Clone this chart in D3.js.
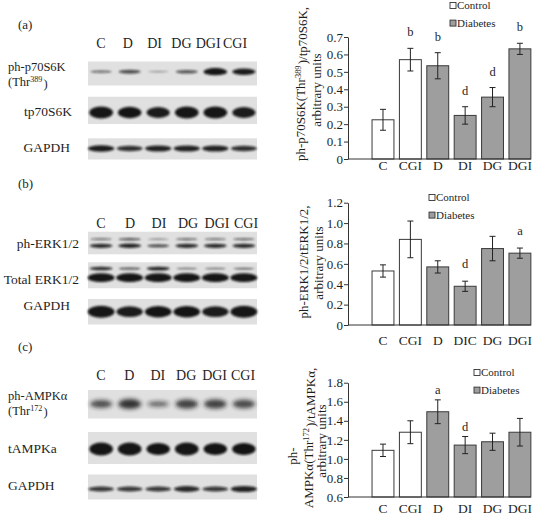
<!DOCTYPE html>
<html><head><meta charset="utf-8">
<script src="https://cdn.jsdelivr.net/npm/d3@7"></script>
<style>
html,body{margin:0;padding:0;background:#fff;}
svg{display:block;font-family:"Liberation Serif","Times New Roman",serif;}
</style></head>
<body>
<svg id="fig" width="555" height="516"></svg>
<script>
// ---------- data ----------
const groupsA = ["C","CGI","D","DI","DG","DGI"];
const groupsB = ["C","CGI","D","DIC","DG","DGI"];
const groupsC = ["C","CGI","D","DI","DG","DGI"];
const groupKind = ["Control","Control","Diabetes","Diabetes","Diabetes","Diabetes"];
const legendItems = ["Control","Diabetes"];

const valuesA = [0.225,0.57,0.535,0.25,0.355,0.632];
const errorsA = [0.06,0.065,0.075,0.05,0.055,0.032];
const lettersA = ["","b","b","d","d","b"];
const ticksA = [0,0.1,0.2,0.3,0.4,0.5,0.6,0.7];
const tickLabelsA = ["0","0.1","0.2","0.3","0.4","0.5","0.6","0.7"];

const valuesB = [0.53,0.84,0.57,0.38,0.75,0.705];
const errorsB = [0.06,0.18,0.06,0.05,0.12,0.05];
const lettersB = ["","","","d","","a"];
const ticksB = [0,0.2,0.4,0.6,0.8,1.0,1.2];
const tickLabelsB = ["0","0.2","0.4","0.6","0.8","1.0","1.2"];

const valuesC = [1.09,1.28,1.495,1.145,1.18,1.28];
const errorsC = [0.065,0.12,0.125,0.09,0.09,0.145];
const lettersC = ["","","a","d","",""];
const ticksC = [0.6,0.8,1.0,1.2,1.4,1.6,1.8];
const tickLabelsC = ["0.6","0.8","1.0","1.2","1.4","1.6","1.8"];

// blot lanes and relative band intensities
const lanes = ["C","D","DI","DG","DGI","CGI"];
const bandA_ph = [0.35,0.55,0.15,0.5,1.0,0.9];
const bandA_t = [1.0,0.95,0.9,1.0,1.0,0.9];
const bandA_g = [0.9,0.75,0.85,0.85,0.85,0.75];
const bandB_phUp = [0.45,0.6,0.3,0.5,0.45,0.5];
const bandB_phLo = [0.8,0.85,0.6,0.8,0.8,0.8];
const bandB_tUp = [0.8,0.5,0.85,0.35,0.35,0.4];
const bandB_tLo = [1,1,1,1,1,1];
const bandB_g = [1.0,0.9,0.95,0.95,0.9,1.0];
const bandC_ph = [0.65,0.85,0.45,0.75,0.75,0.7];
const bandC_t = [1.0,1.0,0.95,1.0,0.95,0.95];
const bandC_g = [0.7,0.7,0.7,0.8,0.7,0.85];

// ---------- drawing ----------
const svg = d3.select("#fig");
const ink = "#1e1e1e";
const defs = svg.append("defs");
defs.append("filter").attr("id","blur1").attr("x","-30%").attr("y","-100%").attr("width","160%").attr("height","300%")
  .append("feGaussianBlur").attr("stdDeviation","1.0");
defs.append("filter").attr("id","blur2").attr("x","-30%").attr("y","-100%").attr("width","160%").attr("height","300%")
  .append("feGaussianBlur").attr("stdDeviation","2.2");

const laneX = d3.scaleBand().domain(lanes).range([88,257]).paddingInner(0.08);

function supText(sel, parts){
  parts.forEach(p=>{
    if(p.sup){
      sel.append("tspan").attr("font-size","0.65em").attr("dy","-0.45em").text(p.t);
      sel.append("tspan").attr("dy","0.45em").text("\u200A");
    } else sel.append("tspan").text(p.t);
  });
}

function drawBlot(panel){
  const g = svg.append("g");
  g.append("text").attr("x",18).attr("y",panel.labelY).attr("font-size",13).attr("fill",ink).text(panel.label);
  const lx = d3.scalePoint().domain(lanes).range(panel.laneLabelRange);
  g.selectAll("text.lane").data(lanes).join("text").attr("class","lane")
    .attr("x",d=>lx(d)).attr("y",panel.laneY).attr("text-anchor","middle")
    .attr("font-size",14).attr("fill",ink).text(d=>d);
  panel.strips.forEach(s=>{
    g.append("rect").attr("x",88).attr("y",s.y0).attr("width",169).attr("height",s.y1-s.y0).attr("fill","#e0e0e0");
    s.bands.forEach(b=>{
      g.append("g").attr("filter",`url(#${b.blur||"blur1"})`)
        .selectAll("ellipse").data(lanes).join("ellipse")
        .attr("cx",d=>laneX(d)+laneX.bandwidth()/2)
        .attr("cy",b.cy)
        .attr("rx",(d,i)=>laneX.bandwidth()/2*(b.wide?1.02:0.9)*(0.85+0.15*b.ints[i]))
        .attr("ry",(d,i)=>Math.max(0.6,b.ry*b.ints[i]))
        .attr("fill",b.color||"#121212")
        .attr("opacity",(d,i)=>0.35+0.65*b.ints[i]);
    });
    s.labels.forEach(l=>{
      const t = g.append("text").attr("x",l.x).attr("y",l.y).attr("text-anchor",l.anchor||"start")
        .attr("font-size",l.fs||13.5).attr("fill",ink);
      supText(t,l.parts);
    });
  });
}

drawBlot({label:"(a)",labelY:29,laneY:48,laneLabelRange:[101,235],strips:[
  {y0:61.5,y1:85.5,bands:[{cy:71.7,ry:3.6,ints:bandA_ph}],
   labels:[{x:8,y:71,fs:12.5,parts:[{t:"ph-p70S6K"}]},{x:8,y:86,fs:12.5,parts:[{t:"(Thr"},{t:"389",sup:true},{t:")"}]}]},
  {y0:96.7,y1:124,bands:[{cy:112.5,ry:6,ints:bandA_t}],
   labels:[{x:72,y:116,anchor:"end",parts:[{t:"tp70S6K"}]}]},
  {y0:138.3,y1:159.5,bands:[{cy:148.5,ry:3.6,ints:bandA_g,wide:true}],
   labels:[{x:70,y:152,anchor:"end",parts:[{t:"GAPDH"}]}]}
]});
drawBlot({label:"(b)",labelY:188,laneY:228,laneLabelRange:[101,246],strips:[
  {y0:231.7,y1:254.3,bands:[{cy:239.2,ry:1.9,ints:bandB_phUp},{cy:245.8,ry:2.6,ints:bandB_phLo}],
   labels:[{x:79,y:248,anchor:"end",parts:[{t:"ph-ERK1/2"}]}]},
  {y0:262.3,y1:288.3,bands:[{cy:268.6,ry:2.2,ints:bandB_tUp},{cy:277.7,ry:4.4,ints:bandB_tLo,wide:true}],
   labels:[{x:79,y:284,anchor:"end",parts:[{t:"Total ERK1/2"}]}]},
  {y0:299,y1:324.5,bands:[{cy:311.7,ry:6,ints:bandB_g,wide:true}],
   labels:[{x:70,y:310,anchor:"end",parts:[{t:"GAPDH"}]}]}
]});
drawBlot({label:"(c)",labelY:351,laneY:380,laneLabelRange:[101,243],strips:[
  {y0:390,y1:418.5,bands:[{cy:404,ry:6,ints:bandC_ph,blur:"blur2",color:"#202020"}],
   labels:[{x:8,y:399.5,fs:12.5,parts:[{t:"ph-AMPK\u03b1"}]},{x:8,y:414.5,fs:12.5,parts:[{t:"(Thr"},{t:"172",sup:true},{t:")"}]}]},
  {y0:432,y1:464,bands:[{cy:449,ry:6.4,ints:bandC_t}],
   labels:[{x:8,y:453,parts:[{t:"tAMPKa"}]}]},
  {y0:474.5,y1:499.5,bands:[{cy:489,ry:3.6,ints:bandC_g,wide:true}],
   labels:[{x:8,y:490,parts:[{t:"GAPDH"}]}]}
]});

// ---------- bar charts ----------
const axisX0 = 348;
function drawChart(c){
  const g = svg.append("g");
  const x = d3.scaleBand().domain(c.groups).range([369.3,533.6]).paddingInner(0.2).paddingOuter(0.1);
  const y = d3.scaleLinear().domain(c.domain).range(c.range);
  const data = c.groups.map((k,i)=>({k,v:c.values[i],e:c.errors[i],l:c.letters[i],kind:groupKind[i]}));
  const fill = d3.scaleOrdinal().domain(legendItems).range(["#ffffff","#9e9e9e"]);

  // y axis
  const ya = g.append("g").attr("transform",`translate(${axisX0},0)`)
    .call(d3.axisLeft(y).tickValues(c.ticks).tickFormat((d,i)=>c.tickLabels[i]).tickSize(4).tickSizeOuter(0));
  ya.select(".domain").attr("stroke","#333");
  ya.selectAll(".tick line").attr("stroke","#333");
  ya.selectAll(".tick text").attr("font-family","Liberation Serif").attr("font-size",13).attr("fill",ink).attr("x",-5);

  // bars
  g.selectAll("rect.bar").data(data).join("rect").attr("class","bar")
    .attr("x",d=>x(d.k)).attr("width",x.bandwidth())
    .attr("y",d=>y(d.v)).attr("height",d=>y(c.domain[0])-y(d.v))
    .attr("fill",d=>fill(d.kind)).attr("stroke","#3a3a3a").attr("stroke-width",1);

  // baseline
  g.append("line").attr("x1",axisX0).attr("x2",x(c.groups[c.groups.length-1])+x.bandwidth())
    .attr("y1",y(c.domain[0])).attr("y2",y(c.domain[0])).attr("stroke","#333");

  // error bars
  const eb = g.selectAll("g.err").data(data).join("g").attr("class","err")
    .attr("transform",d=>`translate(${x(d.k)+x.bandwidth()/2},0)`);
  eb.append("line").attr("y1",d=>y(d.v-d.e)).attr("y2",d=>y(d.v+d.e)).attr("stroke","#222");
  eb.append("line").attr("x1",-3).attr("x2",3).attr("y1",d=>y(d.v+d.e)).attr("y2",d=>y(d.v+d.e)).attr("stroke","#222");
  eb.append("line").attr("x1",-3).attr("x2",3).attr("y1",d=>y(d.v-d.e)).attr("y2",d=>y(d.v-d.e)).attr("stroke","#222");
  eb.append("text").attr("text-anchor","middle").attr("y",d=>y(d.v+d.e)-c.letterGap)
    .attr("font-size",12.5).attr("fill",ink).text(d=>d.l);

  // x labels
  g.selectAll("text.xl").data(data).join("text").attr("class","xl")
    .attr("x",d=>x(d.k)+x.bandwidth()/2).attr("y",c.xLabelY).attr("text-anchor","middle")
    .attr("font-size",13.5).attr("fill",ink).text(d=>d.k);

  // legend
  const lg = g.selectAll("g.lg").data(legendItems).join("g").attr("class","lg")
    .attr("transform",(d,i)=>`translate(${c.legend[0]},${c.legend[1]+i*17.6})`);
  lg.append("rect").attr("x",0).attr("y",-6.5).attr("width",6).attr("height",6)
    .attr("fill",d=>fill(d)).attr("stroke","#333").attr("stroke-width",0.9);
  lg.append("text").attr("x",7).attr("y",0).attr("font-size",11).attr("fill",ink).text(d=>d);

  // y title
  c.title.forEach(line=>{
    const t = g.append("text").attr("transform",`translate(${line.x},${line.y}) rotate(-90)`)
      .attr("text-anchor","middle").attr("font-size",13).attr("fill",ink);
    supText(t,line.parts);
  });
}

drawChart({groups:groupsA,values:valuesA,errors:errorsA,letters:lettersA,ticks:ticksA,tickLabels:tickLabelsA,
  domain:[0,0.7],range:[159,37],xLabelY:170,legend:[450,9],letterGap:12,
  title:[{x:305,y:84,parts:[{t:"ph-p70S6K(Thr"},{t:"389",sup:true},{t:")/tp70S6K,"}]},
         {x:321,y:90,parts:[{t:"arbitrary units"}]}]});
drawChart({groups:groupsB,values:valuesB,errors:errorsB,letters:lettersB,ticks:ticksB,tickLabels:tickLabelsB,
  domain:[0,1.2],range:[325,202.7],xLabelY:345,legend:[429,201],letterGap:13,
  title:[{x:308,y:262,parts:[{t:"ph-ERK1/2/tERK1/2,"}]},
         {x:323,y:263,parts:[{t:"arbitrary units"}]}]});
drawChart({groups:groupsC,values:valuesC,errors:errorsC,letters:lettersC,ticks:ticksC,tickLabels:tickLabelsC,
  domain:[0.6,1.8],range:[497,382.7],xLabelY:513,legend:[474,376],letterGap:6,
  title:[{x:297,y:456,parts:[{t:"ph-"}]},
         {x:312.5,y:438,parts:[{t:"AMPK\u03b1(Thr"},{t:"172",sup:true},{t:")/tAMPK\u03b1,"}]},
         {x:326,y:441,parts:[{t:"arbitrary units"}]}]});
</script>
</body></html>
